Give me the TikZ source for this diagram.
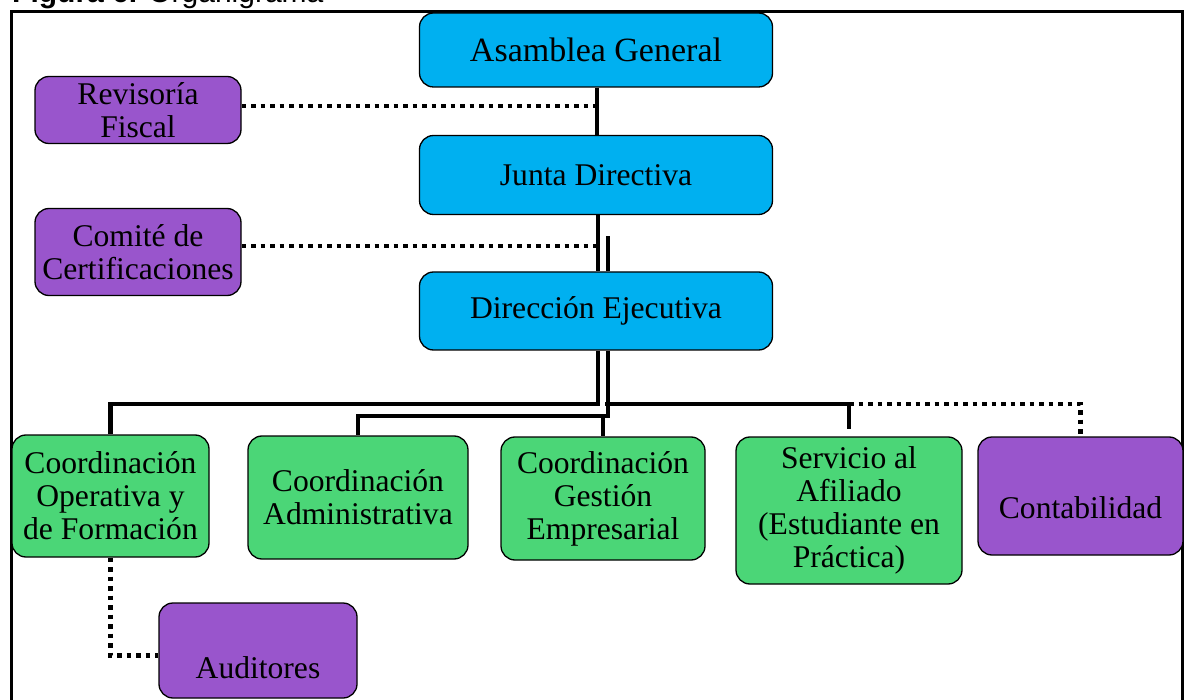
\documentclass[tikz,border=0pt]{standalone}
\usepackage{fontspec}
\usepackage{tikz}
\newfontfamily\orgserif{Liberation Serif}
\newfontfamily\orgsans{Liberation Sans}
\definecolor{OrgCyan}{HTML}{00B0F0}
\definecolor{OrgPurple}{HTML}{9955CC}
\definecolor{OrgGreen}{HTML}{4BD677}

\begin{document}
\begin{tikzpicture}[x=1pt, y=-1pt,
  orgbox/.style={draw=black, line width=1.3pt, rounded corners=14pt, align=center, inner sep=0pt,
    font=\orgserif\fontsize{31.6}{33}\selectfont},
  mainbox/.style={orgbox, fill=OrgCyan, minimum width=353pt},
  sidebox/.style={orgbox, fill=OrgPurple},
  coordbox/.style={orgbox, fill=OrgGreen},
  mainline/.style={line width=4.5pt},
  dotline/.style={line width=4.5pt, dash pattern=on 4.5pt off 5pt}]
  \useasboundingbox (0,0) rectangle (1191,700);
  \clip (0,0) rectangle (1191,700);
  \node[anchor=base west, inner sep=0pt, font=\orgsans\fontsize{30}{30}\selectfont] (title) at (12,3) {\textbf{Figura 6.} Organigrama};
  \draw[line width=3pt] (11,720) -- (11,11.5) -- (1182,11.5) -- (1182,720);

  % organos de direccion
  \node[mainbox, minimum height=74pt, font=\orgserif\fontsize{34}{36}\selectfont] (asamblea) at (596,50) {Asamblea General};
  \node[mainbox, minimum height=79pt] (junta) at (596,175) {Junta Directiva};
  \node[mainbox, minimum height=78pt] (direccion) at (596,311) {Direcci\'on Ejecutiva};
  \node[sidebox, minimum width=206pt, minimum height=67pt] (revisoria) at (138,110) {Revisor\'ia\\Fiscal};
  \node[sidebox, minimum width=206pt, minimum height=87pt] (comite) at (138,252) {Comit\'e de\\Certificaciones};

  % coordinaciones
  \node[coordbox, minimum width=197pt, minimum height=122pt] (coordop) at (110.5,496) {Coordinaci\'on\\Operativa y\\de Formaci\'on};
  \node[coordbox, minimum width=220pt, minimum height=123pt] (coordadm) at (358,497.5) {Coordinaci\'on\\Administrativa};
  \node[coordbox, minimum width=204pt, minimum height=123pt] (coordgest) at (603,498.5) {Coordinaci\'on\\Gesti\'on\\Empresarial};
  \node[coordbox, minimum width=226pt, minimum height=147pt] (servicio) at (849,510.5) {Servicio al\\Afiliado\\(Estudiante en\\Pr\'actica)};
  \node[sidebox, minimum width=205pt, minimum height=118pt, text height=46pt] (contab) at (1080.5,496) {Contabilidad};
  \node[sidebox, minimum width=198pt, minimum height=95pt, text height=56pt] (auditores) at (258,650.5) {Auditores};

  \coordinate (revjoin) at (597,106);
  \coordinate (comjoin) at (597,246);
  \coordinate (busA) at (598,404);
  \coordinate (busB) at (608,416);

  \draw[mainline] (asamblea.south -| revjoin) -- (junta.north -| revjoin);
  \draw[dotline] (revisoria.east |- revjoin) -- (revjoin);
  \draw[mainline] (junta.south -| busA) -- (direccion.north -| busA);
  \draw[mainline] (direccion.north -| busB) -- ++(0,-35);
  \draw[dotline] (comite.east |- comjoin) -- (comjoin);

  \draw[mainline] (direccion.south -| busA) -- (busA) -| (coordop.north);
  \draw[mainline] (direccion.south -| busB) -- (busB) -| (coordadm.north);
  \draw[mainline] (coordgest.north |- busB) -- (coordgest.north);
  \draw[mainline] ([xshift=7pt]busA) -| ([yshift=7pt]servicio.north);
  \draw[dotline] (servicio.north |- busA) -| (contab.north);
  \draw[dotline] (coordop.south) |- ([yshift=-5pt]auditores.west);
\end{tikzpicture}
\end{document}
